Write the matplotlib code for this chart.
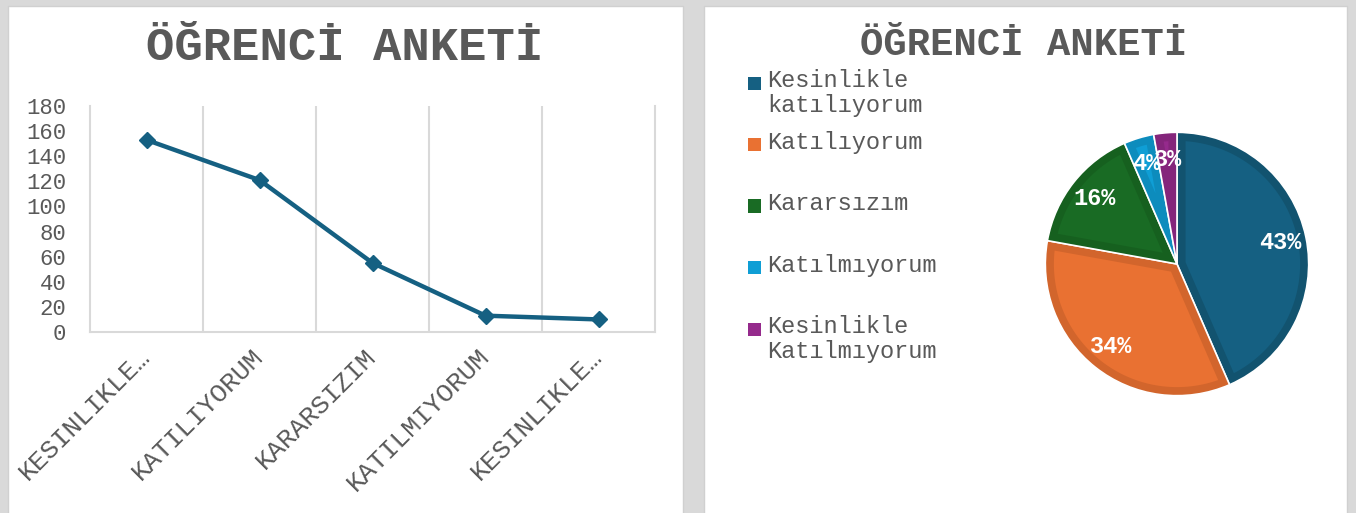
import numpy as np
import matplotlib
matplotlib.use("Agg")
import matplotlib.pyplot as plt
from matplotlib.patches import Rectangle, Polygon

# data
categories = ["KESINLIKLE…", "KATILIYORUM", "KARARSIZIM", "KATILMIYORUM", "KESINLIKLE…"]
counts = [153, 121, 55, 13, 10]
pie_labels = ["Kesinlikle\nkatılıyorum", "Katılıyorum", "Kararsızım",
              "Katılmıyorum", "Kesinlikle\nKatılmıyorum"]
yticks = [0, 20, 40, 60, 80, 100, 120, 140, 160, 180]
title = "ÖĞRENCİ ANKETİ"

pie_colors = ["#156082", "#E97132", "#196B24", "#0F9ED5", "#952A8C"]
edge_colors = ["#12536F", "#D2652C", "#16601F", "#0D8CBD", "#84257B"]
line_color = "#156082"
text_color = "#595959"
grid_color = "#D9D9D9"

plt.rcParams['font.family'] = ['Liberation Mono', 'DejaVu Sans']

W, H = 1356, 513
fig = plt.figure(figsize=(W / 100, H / 100), dpi=100, facecolor="#D9D9D9")

# white chart panels
for x0, x1 in [(8, 683), (704, 1347)]:
    fig.add_artist(Rectangle((x0 / W, -0.02), (x1 - x0) / W, 1.02 - 6 / H,
                             transform=fig.transFigure, facecolor="white",
                             edgecolor="#D0D0D0", linewidth=1, zorder=0))

# ---- left: line chart ----
ax = fig.add_axes([90 / W, 1 - 332 / H, 565 / W, 226 / H])
ax.plot(range(len(counts)), counts, color=line_color, lw=3.2,
        marker="D", ms=8, mec=line_color, mfc=line_color, zorder=3)
ax.set_xlim(-0.5, len(counts) - 0.5)
ax.set_ylim(0, 180)
ax.set_yticks(yticks)
ax.set_yticklabels([str(v) for v in yticks], fontsize=16, color=text_color)
ax.set_xticks(range(len(categories)))
ax.set_xticklabels(categories, rotation=45, ha="right", va="center",
                   rotation_mode="anchor", fontsize=19, color=text_color)
ax.set_xticks(np.arange(0.5, len(categories) - 1, 1), minor=True)
ax.grid(which="minor", axis="x", color=grid_color, lw=1.5)
ax.tick_params(which="both", length=0)
ax.tick_params(axis="y", pad=17)
ax.tick_params(axis="x", pad=15)
for s in ["left", "right", "bottom"]:
    ax.spines[s].set_color(grid_color)
    ax.spines[s].set_linewidth(1.5)
ax.spines["top"].set_visible(False)

fig.text(345 / W, 1 - 48 / H, title, ha="center", va="center",
         fontsize=34, fontweight="bold", color=text_color)

# ---- right: pie chart ----
fig.text(1024 / W, 1 - 45 / H, title, ha="center", va="center",
         fontsize=28, fontweight="bold", color=text_color)

cx, cy, r = 1177, 264, 133
pax = fig.add_axes([(cx - r) / W, 1 - (cy + r) / H, 2 * r / W, 2 * r / H])
wedges, texts, autotexts = pax.pie(
    counts, colors=edge_colors, startangle=90, counterclock=False,
    autopct="%1.0f%%", pctdistance=0.8,
    wedgeprops=dict(edgecolor="white", linewidth=1.2, joinstyle="bevel"),
    textprops=dict(color="white", fontsize=17, fontweight="bold"))

# lighter inner fill: each wedge inset by a small border width
d = 0.065
for w, col in zip(wedges, pie_colors):
    t1, t2 = np.radians(w.theta1), np.radians(w.theta2)
    half = (t2 - t1) / 2
    mid = (t1 + t2) / 2
    R = w.r
    off = d / np.sin(half)
    apex = (w.center[0] + off * np.cos(mid), w.center[1] + off * np.sin(mid))
    beta = np.arcsin(d / (R - d))
    if t2 - beta <= t1 + beta:
        continue
    ang = np.linspace(t1 + beta, t2 - beta, 80)
    pts = [apex] + [(w.center[0] + (R - d) * np.cos(a),
                     w.center[1] + (R - d) * np.sin(a)) for a in ang]
    pax.add_patch(Polygon(pts, closed=True, facecolor=col, edgecolor="none",
                          zorder=w.get_zorder() + 0.1))
for t in autotexts:
    t.set_zorder(5)

pax.set_xlim(-1.01, 1.01)
pax.set_ylim(-1.01, 1.01)
pax.set_aspect("equal")
pax.axis("off")

# legend
for i, (lab, col) in enumerate(zip(pie_labels, pie_colors)):
    y = 83 + 61.5 * i
    fig.add_artist(Rectangle((748 / W, 1 - (y + 6.5) / H), 13 / W, 13 / H,
                             transform=fig.transFigure, facecolor=col,
                             edgecolor="none"))
    fig.text(767 / W, 1 - (y - 14) / H, lab, ha="left", va="top",
             fontsize=17, color=text_color, linespacing=1.12)

fig.savefig("out.png", dpi=100, facecolor=fig.get_facecolor())
